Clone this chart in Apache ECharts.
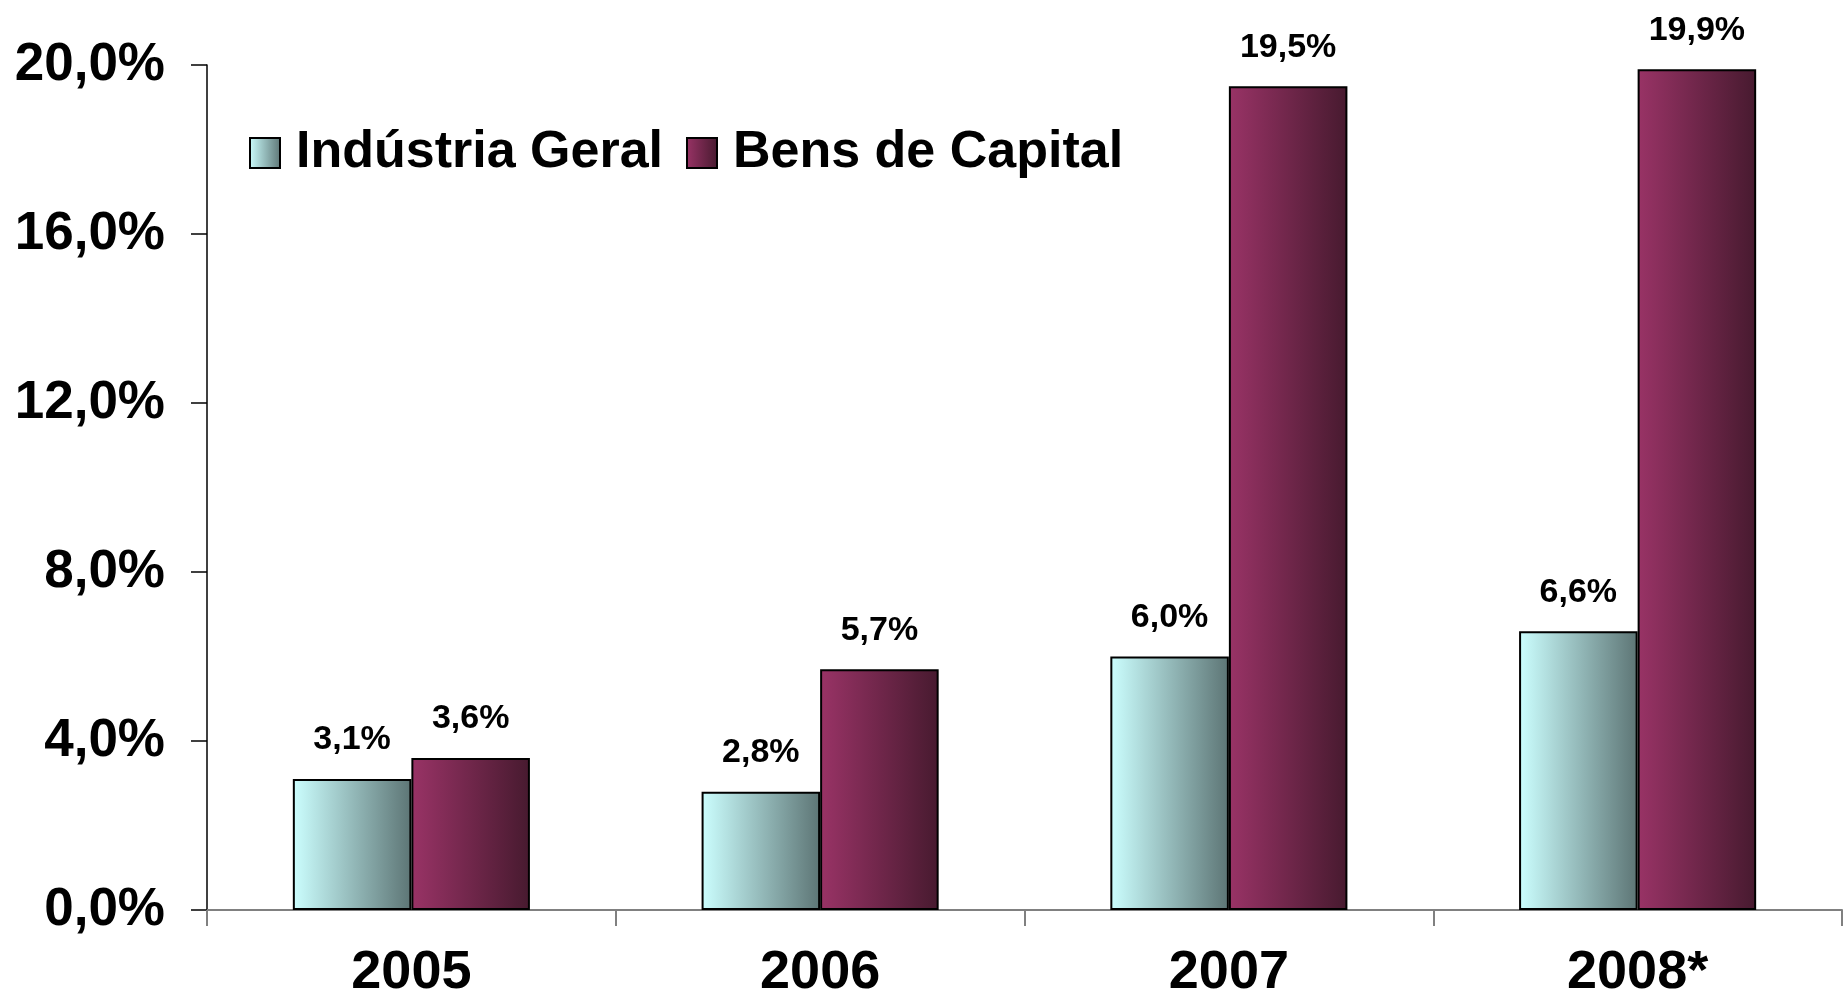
<!DOCTYPE html>
<html>
<head>
<meta charset="utf-8">
<title>Indústria Geral x Bens de Capital</title>
<script src="https://cdn.jsdelivr.net/npm/echarts@6/dist/echarts.min.js"></script>
<style>
  html, body { margin: 0; padding: 0; background: #fff; }
</style>
</head>
<body>
<div id="main" style="width:1845px;height:1000px;"></div>
<script type="text/javascript">
// dados do gráfico
var anos = ['2005', '2006', '2007', '2008*'];
var industriaGeral = [3.1, 2.8, 6.0, 6.6];
var bensCapital = [3.6, 5.7, 19.5, 19.9];
var nomesSeries = ['Indústria Geral', 'Bens de Capital'];
var yMin = 0, yMax = 20, yStep = 4;

var fonte = '"Liberation Sans", Arial, sans-serif';

// formato brasileiro: 3,1%
function pct(v) {
    return v.toFixed(1).replace('.', ',') + '%';
}

function degrade(c1, c2) {
    return new echarts.graphic.LinearGradient(0, 0, 1, 0, [
        { offset: 0, color: c1 },
        { offset: 1, color: c2 }
    ]);
}

var rotulo = {
    show: true,
    position: 'top',
    distance: 22,
    color: '#000',
    fontFamily: fonte,
    fontWeight: 'bold',
    fontSize: 34,
    formatter: function (p) { return pct(p.value); }
};

var myChart = echarts.init(document.getElementById('main'));

myChart.setOption({
    animation: false,
    backgroundColor: '#fff',
    grid: { left: 207, right: 3, top: 65, bottom: 89 },
    legend: {
        data: nomesSeries,
        left: 244,
        top: 122,
        icon: 'rect',
        itemWidth: 30,
        itemHeight: 30,
        itemGap: 23,
        textStyle: {
            fontFamily: fonte,
            fontWeight: 'bold',
            fontSize: 52,
            color: '#000',
            padding: [0, 0, 0, 11]
        }
    },
    xAxis: {
        type: 'category',
        data: anos,
        axisLine: { lineStyle: { color: '#808080', width: 2 } },
        axisTick: { show: true, length: 16, lineStyle: { color: '#808080', width: 2 } },
        axisLabel: {
            margin: 36,
            color: '#000',
            fontFamily: fonte,
            fontWeight: 'bold',
            fontSize: 54
        }
    },
    yAxis: {
        type: 'value',
        min: yMin,
        max: yMax,
        interval: yStep,
        splitLine: { show: false },
        axisLine: { show: true, lineStyle: { color: '#000', width: 1.5 } },
        axisTick: { show: true, length: 16, lineStyle: { color: '#000', width: 1.5 } },
        axisLabel: {
            margin: 42,
            color: '#000',
            fontFamily: fonte,
            fontWeight: 'bold',
            fontSize: 53,
            formatter: function (v) { return pct(v); }
        }
    },
    series: [{
        name: nomesSeries[0],
        type: 'bar',
        data: industriaGeral,
        barGap: '0%',
        barCategoryGap: '42%',
        itemStyle: {
            color: degrade('#ccffff', '#5d7575'),
            borderColor: '#000',
            borderWidth: 2
        },
        label: rotulo
    }, {
        name: nomesSeries[1],
        type: 'bar',
        data: bensCapital,
        barGap: '0%',
        barCategoryGap: '42%',
        itemStyle: {
            color: degrade('#993366', '#471a2f'),
            borderColor: '#000',
            borderWidth: 2
        },
        label: rotulo
    }]
});
</script>
</body>
</html>
